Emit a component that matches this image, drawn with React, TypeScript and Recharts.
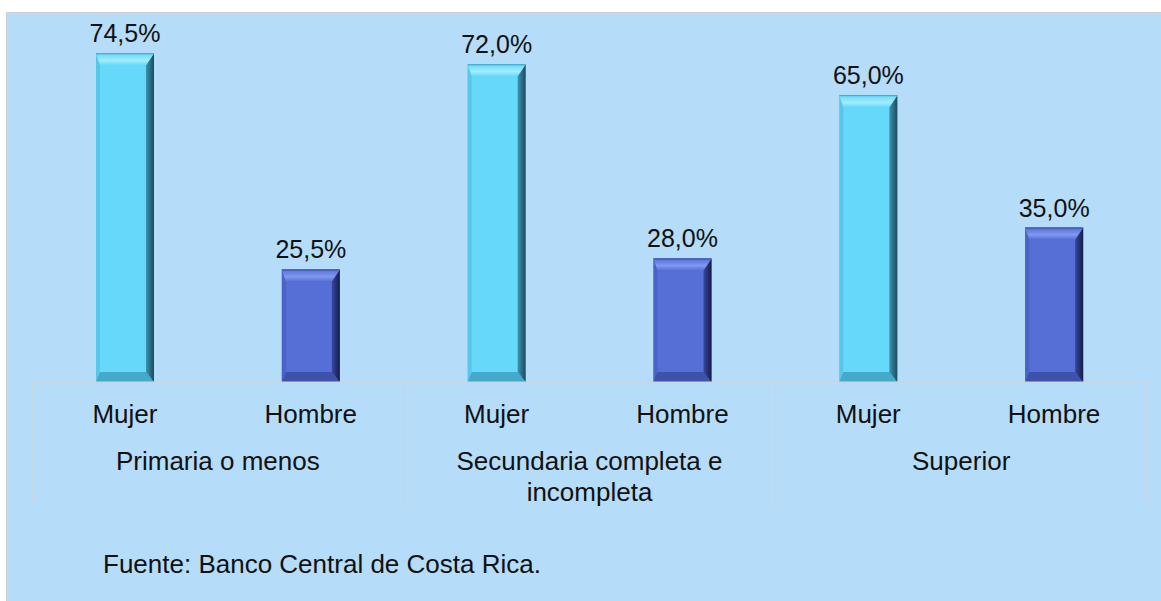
import React from 'react'
import { BarChart, Bar, XAxis, YAxis, LabelList } from 'recharts'

const grupos = ['Primaria o menos', 'Secundaria completa e\nincompleta', 'Superior']
const sexos = ['Mujer', 'Hombre']
const mujer = [74.5, 72.0, 65.0]
const hombre = [25.5, 28.0, 35.0]

const data = grupos.flatMap((g, i) => [
  { grupo: g, sexo: sexos[0], valor: mujer[i] },
  { grupo: g, sexo: sexos[1], valor: hombre[i] },
])

const W = 1154
const H = 588
const margin = { top: 16, right: 14, left: 25, bottom: 96 }
const PLOT_W = W - margin.left - margin.right
const TICK_H = 50
const GROUP_H = 73
const FONT = 'Liberation Sans, Arial, sans-serif'
const LINE = '#d2d2d2'

const palette: Record<string, any> = {
  Mujer: { base: '#66d9fa', top: '#a4ecfd', edge: '#3f9fbf', left: '#58c6e8', bottom: '#45a9cb', dark: '#1d4a5c', mid: '#3a94b2' },
  Hombre: { base: '#566fd7', top: '#8099ef', edge: '#3a4d9c', left: '#4b62c6', bottom: '#3d52aa', dark: '#161d48', mid: '#3647a0' },
}

function BevelBar(props: any) {
  const { x, y, width: w, height: h, payload } = props
  if (!h || h <= 0) return null
  const c = palette[payload.sexo]
  const t = 12
  const s = 8
  const l = 4
  const b = 10
  const id = `rg-${payload.sexo}`
  const tg = `tg-${payload.sexo}`
  return (
    <g>
      <defs>
        <linearGradient id={id} x1="0" y1="0" x2="1" y2="0">
          <stop offset="0%" stopColor={c.mid} />
          <stop offset="100%" stopColor={c.dark} />
        </linearGradient>
        <linearGradient id={tg} x1="0" y1="0" x2="0" y2="1">
          <stop offset="0%" stopColor={c.base} />
          <stop offset="60%" stopColor={c.top} />
          <stop offset="100%" stopColor={c.base} />
        </linearGradient>
      </defs>
      <rect x={x} y={y} width={w} height={h} fill={c.base} />
      <polygon points={`${x},${y} ${x + l},${y + t} ${x + l},${y + h - b} ${x},${y + h}`} fill={c.left} />
      <polygon points={`${x},${y + h} ${x + l},${y + h - b} ${x + w - s},${y + h - b} ${x + w},${y + h}`} fill={c.bottom} />
      <polygon points={`${x + w},${y} ${x + w},${y + h} ${x + w - s},${y + h - b} ${x + w - s},${y + t}`} fill={`url(#${id})`} />
      <polygon points={`${x},${y} ${x + w},${y} ${x + w - s},${y + t} ${x + l},${y + t}`} fill={`url(#${tg})`} />
      <line x1={x} y1={y + 0.5} x2={x + w} y2={y + 0.5} stroke={c.edge} strokeWidth={1} />
    </g>
  )
}

function SexoTick(props: any) {
  const { x, y, payload } = props
  return (
    <text x={x} y={y + 41} textAnchor="middle" fontSize={26} fontFamily={FONT} fill="#111">
      {payload.value}
    </text>
  )
}

function GrupoTick(props: any) {
  const { x, y, payload, index } = props
  const band = PLOT_W / grupos.length
  const lines = String(payload.value).split('\n')
  return (
    <g>
      <line x1={x - band / 2} y1={y - TICK_H} x2={x - band / 2} y2={y + GROUP_H} stroke={LINE} />
      {index === grupos.length - 1 && (
        <line x1={x + band / 2} y1={y - TICK_H} x2={x + band / 2} y2={y + GROUP_H} stroke={LINE} />
      )}
      <text x={x} y={y + 38} textAnchor="middle" fontSize={26} fontFamily={FONT} fill="#111">
        {lines.map((ln, i) => (
          <tspan key={i} x={x} dy={i === 0 ? 0 : 31}>
            {ln}
          </tspan>
        ))}
      </text>
    </g>
  )
}

const fmt = (v: any) => `${Number(v).toFixed(1).replace('.', ',')}%`

export default function App() {
  return (
    <div
      style={{
        position: 'absolute',
        left: 6,
        top: 12,
        width: W,
        height: H,
        background: '#b5dcf9',
        borderTop: '1px solid #cfcfcf',
        borderLeft: '1px solid #cfcfcf',
        fontFamily: FONT,
      }}
    >
      <BarChart width={W} height={H} data={data} margin={margin}>
        <XAxis
          dataKey="sexo"
          interval={0}
          height={TICK_H}
          tickLine={false}
          tickSize={0}
          tickMargin={0}
          axisLine={{ stroke: LINE }}
          tick={<SexoTick />}
        />
        <XAxis
          xAxisId="grupo"
          dataKey="grupo"
          allowDuplicatedCategory={false}
          interval={0}
          height={GROUP_H}
          tickLine={false}
          tickSize={0}
          tickMargin={0}
          axisLine={false}
          tick={<GrupoTick />}
        />
        <YAxis hide domain={[0, 80]} />
        <Bar dataKey="valor" barSize={58} shape={<BevelBar />} isAnimationActive={false}>
          <LabelList
            dataKey="valor"
            position="top"
            offset={11}
            formatter={fmt}
            fontSize={25}
            fontFamily={FONT}
            fill="#111"
          />
        </Bar>
      </BarChart>
      <div
        style={{
          position: 'absolute',
          left: 96,
          top: 538,
          fontSize: 26,
          lineHeight: 1,
          color: '#111',
          whiteSpace: 'nowrap',
        }}
      >
        Fuente: Banco Central de Costa Rica.
      </div>
    </div>
  )
}
